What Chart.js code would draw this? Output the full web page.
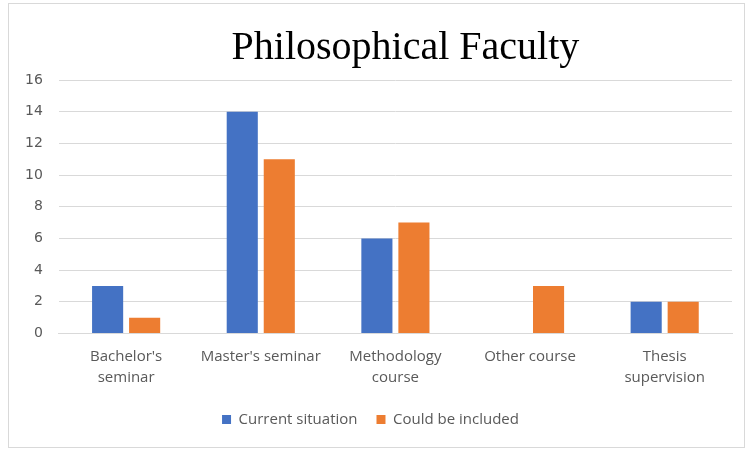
<!DOCTYPE html>
<html>
<head>
<meta charset="utf-8">
<script src="https://cdn.jsdelivr.net/npm/chart.js@4"></script>
<style>
  body { margin: 0; background: #fff; }
  #wrap {
    position: absolute; left: 8px; top: 3px; width: 737px; height: 445px;
    border: 1px solid #d9d9d9; box-sizing: border-box; background: #fff;
  }
</style>
</head>
<body>
<div id="wrap"><canvas id="Chart1"></canvas></div>
<script>
// Categories and series
const categories = [["Bachelor's", "seminar"], "Master's seminar", ["Methodology", "course"], "Other course", ["Thesis", "supervision"]];
const currentSituation = [3, 14, 6, 0, 2];
const couldBeIncluded = [1, 11, 7, 3, 2];
const yTicks = [0, 2, 4, 6, 8, 10, 12, 14, 16];

const labelFont = { family: "'Open Sans', 'Noto Sans', sans-serif", size: 15, lineHeight: 1.45 };
const yFont = { family: "'DejaVu Sans', sans-serif", size: 14 };

// Shift the title so it sits over the middle of the plot
const titleShift = {
  id: 'titleShift',
  afterLayout(chart) {
    const t = chart.titleBlock;
    if (t) {
      t.left = chart.chartArea.left + 10;
      t.right = chart.chartArea.right + 10;
    }
  }
};

var ctx = document.getElementById('Chart1').getContext('2d');
var Chart1 = new Chart(ctx, {
  type: 'bar',
  data: {
    labels: categories,
    datasets: [
      {
        label: 'Current situation',
        data: currentSituation,
        backgroundColor: '#4472C4',
        categoryPercentage: 0.55,
        barPercentage: 0.84
      },
      {
        label: 'Could be included',
        data: couldBeIncluded,
        backgroundColor: '#ED7D31',
        categoryPercentage: 0.55,
        barPercentage: 0.84
      }
    ]
  },
  options: {
    responsive: true,
    maintainAspectRatio: false,
    animation: false,
    layout: { padding: { left: 0, right: 12, top: 0, bottom: 10 } },
    plugins: {
      title: {
        display: true,
        text: 'Philosophical Faculty',
        color: '#000',
        font: { family: "'Liberation Serif', 'DejaVu Serif', serif", size: 40, weight: 'normal' },
        padding: { top: 20, bottom: 8 }
      },
      legend: {
        position: 'bottom',
        labels: {
          color: '#595959',
          font: labelFont,
          boxWidth: 9,
          boxHeight: 9,
          padding: 19
        }
      },
      tooltip: { enabled: false }
    },
    scales: {
      x: {
        grid: { display: false },
        border: { display: true, color: '#d9d9d9' },
        ticks: { color: '#595959', font: labelFont, maxRotation: 0, padding: 4 },
        afterFit: s => { s.paddingLeft = 0; s.paddingRight = 0; }
      },
      y: {
        min: 0,
        max: 16,
        afterBuildTicks: axis => { axis.ticks = yTicks.map(v => ({ value: v })); },
        grid: { color: '#d9d9d9', drawTicks: false },
        border: { display: false },
        ticks: { color: '#595959', font: yFont, padding: 16 }
      }
    }
  },
  plugins: [titleShift]
});
</script>
</body>
</html>
